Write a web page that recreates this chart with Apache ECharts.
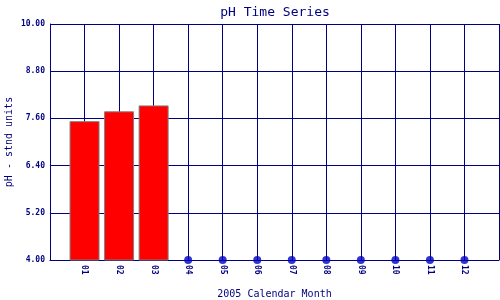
<!DOCTYPE html>
<html>
<head>
<meta charset="utf-8">
<script src="https://cdn.jsdelivr.net/npm/echarts@6/dist/echarts.min.js"></script>
<style>html,body{margin:0;padding:0;background:#fff;}#c{width:500px;height:300px;}</style>
</head>
<body>
<div id="c"></div>
<script>
const months = ['01','02','03','04','05','06','07','08','09','10','11','12'];
const phValues = [7.53, 7.78, 7.93, null, null, null, null, null, null, null, null, null];
const missingMarks = [null, null, null, 4, 4, 4, 4, 4, 4, 4, 4, 4];
const yTickLabels = ['4.00','5.20','6.40','7.60','8.80','10.00'];

const xCats = [''].concat(months, ['']);
const pad = a => [null].concat(a, [null]);
const navy = '#000080';
const font = 'DejaVu Sans Mono';

const chart = echarts.init(document.getElementById('c'), null, {renderer: 'canvas'});
chart.setOption({
  animation: false,
  backgroundColor: '#fff',
  title: {
    text: 'pH Time Series', left: 270, textAlign: 'center', top: 1,
    textStyle: {fontFamily: font, fontSize: 13, fontWeight: 'normal', color: navy}
  },
  grid: {left: 50, right: 1, top: 24, bottom: 40, containLabel: false, outerBoundsMode: 'none'},
  xAxis: {
    type: 'category', data: xCats, boundaryGap: false,
    name: '2005 Calendar Month', nameLocation: 'middle', nameGap: 29, nameMoveOverlap: false,
    nameTextStyle: {fontFamily: font, fontSize: 10, color: navy},
    axisLine: {show: true, lineStyle: {color: navy, width: 1}},
    axisTick: {show: false},
    axisLabel: {interval: 0, rotate: -90, margin: 5, fontFamily: font, fontSize: 8, fontWeight: 'bold', color: navy},
    splitLine: {show: true, interval: 0, lineStyle: {color: navy, width: 1}}
  },
  yAxis: [
    {type: 'value', min: 4, max: 10, show: false, position: 'left', splitLine: {show: false}},
    {
      type: 'value', min: 0, max: 6, interval: 1.2, position: 'left',
      name: 'pH - stnd units', nameLocation: 'middle', nameGap: 36, nameRotate: 90, nameMoveOverlap: false,
      nameTextStyle: {fontFamily: font, fontSize: 10, color: navy},
      axisLine: {show: true, lineStyle: {color: navy, width: 1}},
      axisTick: {show: false},
      axisLabel: {margin: 5, fontFamily: font, fontSize: 8, fontWeight: 'bold', color: navy,
        formatter: (v, i) => yTickLabels[i]},
      splitLine: {show: true, lineStyle: {color: navy, width: 1}}
    }
  ],
  series: [
    {
      type: 'bar', yAxisIndex: 0, data: pad(phValues), barWidth: 30,
      itemStyle: {color: '#ff0000', borderColor: '#808080', borderWidth: 1}
    },
    {
      type: 'scatter', yAxisIndex: 0, data: pad(missingMarks), symbol: 'circle', symbolSize: 8,
      itemStyle: {color: '#0000c0'}, clip: false, z: 5
    }
  ]
});
</script>
</body>
</html>
